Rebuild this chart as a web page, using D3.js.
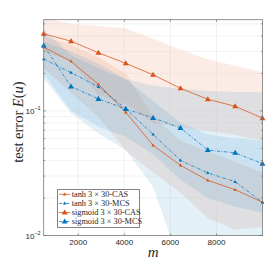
<!DOCTYPE html>
<html>
<head>
<meta charset="utf-8">
<script src="https://cdn.jsdelivr.net/npm/d3@7"></script>
<style>
  html, body { margin: 0; padding: 0; background: #fff; }
  svg { display: block; }
</style>
</head>
<body>
<div id="chart"></div>
<script>
// sample sizes m
const mValues = [500, 1687.5, 2875, 4062.5, 5250, 6437.5, 7625, 8812.5, 10000];

// mean test errors
const tanhCAS    = [0.325, 0.250, 0.1635, 0.0976, 0.0529, 0.0366, 0.0277, 0.0233, 0.0185];
const tanhMCS    = [0.261, 0.203, 0.156, 0.1045, 0.0648, 0.0401, 0.0318, 0.0270, 0.0185];
const sigmoidCAS = [0.416, 0.363, 0.293, 0.241, 0.195, 0.152, 0.124, 0.109, 0.0874];
const sigmoidMCS = [0.335, 0.157, 0.125, 0.1037, 0.0879, 0.0731, 0.0485, 0.0461, 0.0377];

// shaded ranges (upper / lower)
const tanhCASHi    = [0.40, 0.34, 0.27, 0.20, 0.09, 0.058, 0.047, 0.039, 0.032];
const tanhCASLo    = [0.22, 0.14, 0.09, 0.048, 0.032, 0.022, 0.0138, 0.0111, 0.0117];
const tanhMCSHi    = [0.36, 0.30, 0.24, 0.18, 0.12, 0.08, 0.065, 0.06, 0.058];
const tanhMCSLo    = [0.182, 0.096, 0.066, 0.0485, 0.0245, 0.0058, 0.005, 0.0045, 0.005];
const sigmoidCASHi = [0.56, 0.50, 0.48, 0.46, 0.38, 0.31, 0.26, 0.23, 0.205];
const sigmoidCASLo = [0.30, 0.25, 0.135, 0.113, 0.08, 0.074, 0.069, 0.064, 0.058];
const sigmoidMCSHi = [0.45, 0.28, 0.22, 0.18, 0.16, 0.15, 0.145, 0.142, 0.141];
const sigmoidMCSLo = [0.20, 0.10, 0.075, 0.062, 0.045, 0.028, 0.020, 0.017, 0.0152];

const xTicks = [2000, 4000, 6000, 8000];
const yMajor = [0.01, 0.1];
const yMinor = [0.02, 0.03, 0.04, 0.05, 0.06, 0.07, 0.08, 0.09, 0.2, 0.3, 0.4, 0.5];

const orange = '#D95319';
const blue = '#0072BD';

const series = [
  { name: 'tanh 3 × 30-CAS', vals: tanhCAS, hi: tanhCASHi, lo: tanhCASLo, color: orange, dash: null, msize: 1.8 },
  { name: 'tanh 3 × 30-MCS', vals: tanhMCS, hi: tanhMCSHi, lo: tanhMCSLo, color: blue, dash: '3,1.5,0.8,1.5', msize: 1.8 },
  { name: 'sigmoid 3 × 30-CAS', vals: sigmoidCAS, hi: sigmoidCASHi, lo: sigmoidCASLo, color: orange, dash: null, msize: 3.1 },
  { name: 'sigmoid 3 × 30-MCS', vals: sigmoidMCS, hi: sigmoidMCSHi, lo: sigmoidMCSLo, color: blue, dash: '3,1.5,0.8,1.5', msize: 3.1 }
];

const W = 274, H = 274;
const plotL = 43.7, plotR = 262.5, plotT = 19.7, plotB = 235.5;

const svg = d3.select('#chart').append('svg')
  .attr('width', W)
  .attr('height', H);

const x = d3.scaleLinear().domain([500, 10000]).range([plotL, plotR]);
const y = d3.scaleLog().domain([0.01, 0.54]).range([plotB, plotT]);

svg.append('defs').append('clipPath')
  .attr('id', 'plot-clip')
  .append('rect')
  .attr('x', plotL).attr('y', plotT)
  .attr('width', plotR - plotL).attr('height', plotB - plotT);

// grid under everything
const grid = svg.append('g');
grid.selectAll('.vg').data(xTicks).enter().append('line')
  .attr('x1', d => x(d)).attr('x2', d => x(d))
  .attr('y1', plotT).attr('y2', plotB)
  .attr('stroke', '#e3e3e3').attr('stroke-width', 0.6);
grid.selectAll('.hg').data(yMajor.concat(yMinor)).enter().append('line')
  .attr('x1', plotL).attr('x2', plotR)
  .attr('y1', d => y(d)).attr('y2', d => y(d))
  .attr('stroke', '#e8e8e8').attr('stroke-width', 0.6);

// shaded bands
const area = d3.area()
  .x((d, i) => x(mValues[i]))
  .y0(d => y(d[1]))
  .y1(d => y(d[0]));

const bands = svg.append('g').attr('clip-path', 'url(#plot-clip)');
[series[2], series[0], series[3], series[1]].forEach(s => {
  bands.append('path')
    .datum(s.hi.map((h, i) => [h, s.lo[i]]))
    .attr('fill', s.color)
    .attr('fill-opacity', 0.11)
    .attr('stroke', 'none')
    .attr('d', area);
});

// faint grid on top of the fills
const grid2 = svg.append('g').attr('opacity', 0.35);
grid2.selectAll('.vg').data(xTicks).enter().append('line')
  .attr('x1', d => x(d)).attr('x2', d => x(d))
  .attr('y1', plotT).attr('y2', plotB)
  .attr('stroke', '#ffffff').attr('stroke-width', 0.6);
grid2.selectAll('.hg').data(yMajor.concat(yMinor)).enter().append('line')
  .attr('x1', plotL).attr('x2', plotR)
  .attr('y1', d => y(d)).attr('y2', d => y(d))
  .attr('stroke', '#ffffff').attr('stroke-width', 0.6);

// lines + markers
const line = d3.line()
  .x((d, i) => x(mValues[i]))
  .y(d => y(d));

const tri = r => `M0,${-r} L${r * 0.95},${r * 0.65} L${-r * 0.95},${r * 0.65} Z`;

series.forEach(s => {
  const g = svg.append('g');
  g.append('path')
    .datum(s.vals)
    .attr('fill', 'none')
    .attr('stroke', s.color)
    .attr('stroke-width', 0.75)
    .attr('stroke-dasharray', s.dash)
    .attr('d', line);
  g.selectAll('path.mk').data(s.vals).enter().append('path')
    .attr('class', 'mk')
    .attr('transform', (d, i) => `translate(${x(mValues[i])},${y(d)})`)
    .attr('d', tri(s.msize))
    .attr('fill', s.color);
});

// axes box
svg.append('rect')
  .attr('x', plotL).attr('y', plotT)
  .attr('width', plotR - plotL).attr('height', plotB - plotT)
  .attr('fill', 'none')
  .attr('stroke', '#777')
  .attr('stroke-width', 0.8);

// ticks (inward)
const ticks = svg.append('g').attr('stroke', '#555').attr('stroke-width', 0.6);
xTicks.forEach(t => {
  ticks.append('line').attr('x1', x(t)).attr('x2', x(t)).attr('y1', plotB).attr('y2', plotB - 2.2);
  ticks.append('line').attr('x1', x(t)).attr('x2', x(t)).attr('y1', plotT).attr('y2', plotT + 2.2);
});
yMajor.concat(yMinor).forEach(t => {
  const len = yMajor.includes(t) ? 2.2 : 1.4;
  ticks.append('line').attr('x1', plotL).attr('x2', plotL + len).attr('y1', y(t)).attr('y2', y(t));
  ticks.append('line').attr('x1', plotR).attr('x2', plotR - len).attr('y1', y(t)).attr('y2', y(t));
});

// tick labels
svg.append('g').selectAll('text').data(xTicks).enter().append('text')
  .attr('x', d => x(d))
  .attr('y', plotB + 9.5)
  .attr('text-anchor', 'middle')
  .style('font-family', '"Liberation Sans", Arial, sans-serif')
  .style('font-size', '8px')
  .style('fill', '#262626')
  .text(d => d);

yMajor.forEach(t => {
  const lbl = svg.append('text')
    .attr('x', plotL - 3)
    .attr('y', y(t) + 3)
    .attr('text-anchor', 'end')
    .style('font-family', '"Liberation Sans", Arial, sans-serif')
    .style('font-size', '8px')
    .style('fill', '#262626');
  lbl.append('tspan').text('10');
  lbl.append('tspan')
    .attr('dy', -3.5)
    .style('font-size', '5.5px')
    .text(String(Math.round(Math.log10(t))).replace('-', '\u2212'));
});

// axis titles
const ylab = svg.append('text')
  .attr('transform', `translate(23,122) rotate(-90)`)
  .attr('text-anchor', 'middle')
  .style('font-family', '"Liberation Serif", "DejaVu Serif", serif')
  .style('font-size', '14.5px')
  .style('fill', '#262626');
ylab.append('tspan').text('test error ');
ylab.append('tspan').style('font-style', 'italic').text('E');
ylab.append('tspan').text('(');
ylab.append('tspan').style('font-style', 'italic').text('u');
ylab.append('tspan').text(')');

svg.append('text')
  .attr('x', (plotL + plotR) / 2)
  .attr('y', 257)
  .attr('text-anchor', 'middle')
  .style('font-family', '"Liberation Serif", "DejaVu Serif", serif')
  .style('font-style', 'italic')
  .style('font-size', '15px')
  .style('fill', '#262626')
  .text('m');

// legend
const lg = svg.append('g').attr('transform', 'translate(57.7,189.3)');
lg.append('rect')
  .attr('width', 81.6).attr('height', 38.4)
  .attr('fill', '#fff')
  .attr('stroke', '#333')
  .attr('stroke-width', 0.6);
series.forEach((s, i) => {
  const row = lg.append('g').attr('transform', `translate(0,${5 + i * 9.1})`);
  row.append('line')
    .attr('x1', 1.5).attr('x2', 12.5)
    .attr('stroke', s.color).attr('stroke-width', 0.8)
    .attr('stroke-dasharray', s.dash);
  row.append('path')
    .attr('transform', 'translate(7,0)')
    .attr('d', tri(s.msize))
    .attr('fill', s.color);
  row.append('text')
    .attr('x', 14)
    .attr('y', 2.8)
    .style('font-family', '"Liberation Serif", "DejaVu Serif", serif')
    .style('font-size', '8.3px')
    .style('fill', '#262626')
    .text(s.name);
});
</script>
</body>
</html>
